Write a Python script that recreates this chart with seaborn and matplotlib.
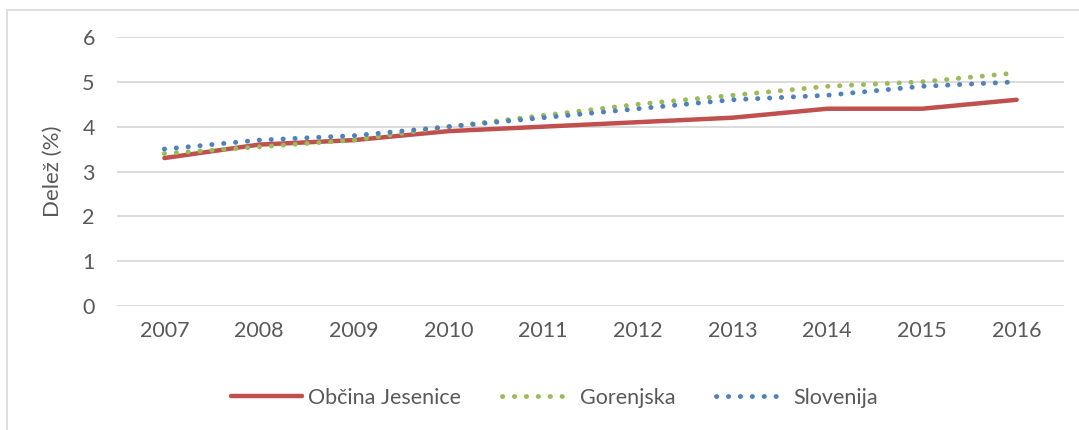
import pandas as pd
import matplotlib.pyplot as plt
import seaborn as sns
from matplotlib.patches import Rectangle

years = ['2007', '2008', '2009', '2010', '2011', '2012', '2013', '2014', '2015', '2016']
jesenice = [3.3, 3.6, 3.7, 3.9, 4.0, 4.1, 4.2, 4.4, 4.4, 4.6]
gorenjska = [3.4, 3.55, 3.7, 4.0, 4.25, 4.5, 4.7, 4.9, 5.0, 5.2]
slovenija = [3.5, 3.7, 3.8, 4.0, 4.2, 4.4, 4.6, 4.7, 4.9, 5.0]
series_names = ['Občina Jesenice', 'Gorenjska', 'Slovenija']

sns.set_style('white')
plt.rcParams['font.family'] = ['Lato', 'DejaVu Sans']
text_color = '#595959'
grid_color = '#D9D9D9'
fs = 15.5

df = pd.DataFrame({'x': range(len(years)), 'Občina Jesenice': jesenice,
                   'Gorenjska': gorenjska, 'Slovenija': slovenija})

fig = plt.figure(figsize=(10.79, 4.30), dpi=100)
ax = fig.add_axes([117 / 1079, 124 / 430, 947 / 1079, 269 / 430])

# Excel-like dotted series: round dots ~12 px apart
dots = (0, (0.05, 2.4))
styles = {
    'Občina Jesenice': dict(color='#C0504D', linestyle='-', linewidth=3.2, solid_capstyle='round'),
    'Gorenjska': dict(color='#9BBB59', linestyle=dots, linewidth=3.5, dash_capstyle='round'),
    'Slovenija': dict(color='#4F81BD', linestyle=dots, linewidth=3.5, dash_capstyle='round'),
}
for name in series_names:
    sns.lineplot(data=df, x='x', y=name, ax=ax, label=name, **styles[name])

ax.set_xlim(-0.5, len(years) - 0.5)
ax.set_ylim(0, 6)
ax.set_yticks(range(0, 7))
ax.set_xticks(range(len(years)))
ax.set_xticklabels(years)
ax.grid(axis='y', color=grid_color, linewidth=1.3)
ax.set_axisbelow(True)
for s in ax.spines.values():
    s.set_visible(False)
ax.tick_params(axis='both', length=0, labelsize=fs, colors=text_color)
ax.tick_params(axis='y', pad=16)
ax.tick_params(axis='x', pad=11)
ax.set_xlabel('')
ax.set_ylabel('Delež (%)', fontsize=16, color=text_color, labelpad=14)

leg = ax.legend(loc='center', bbox_to_anchor=(0.462, -0.342), ncol=3, frameon=False,
                fontsize=fs, handlelength=3.3, columnspacing=1.9, handletextpad=0.3)
for t in leg.get_texts():
    t.set_color(text_color)

# outer chart border
fig.patches.append(Rectangle((7 / 1079, -0.1), 1.2, 1.1 - 10 / 430, transform=fig.transFigure,
                             fill=False, edgecolor='#D9D9D9', linewidth=1.2))

fig.savefig('out.png', dpi=100)
